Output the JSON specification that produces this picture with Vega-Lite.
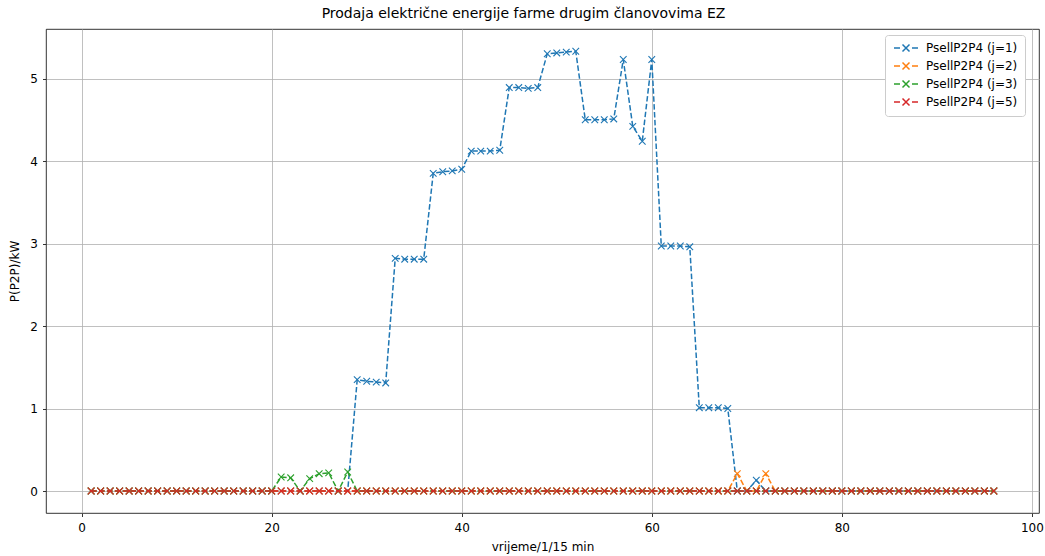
{
  "$schema": "https://vega.github.io/schema/vega-lite/v6.json",
  "width": 993,
  "height": 484,
  "autosize": {"type": "none"},
  "padding": {"left": 46, "top": 29, "right": 6, "bottom": 43},
  "background": "white",
  "title": {"text": "Prodaja električne energije farme drugim članovovima EZ", "font": "DejaVu Sans", "fontSize": 14, "fontWeight": "normal", "color": "black", "offset": 8, "dx": -19},
  "config": {
    "font": "DejaVu Sans",
    "view": {"stroke": "black", "strokeWidth": 0.8},
    "axis": {"domain": false, "grid": true, "gridColor": "#b0b0b0", "gridWidth": 0.8, "tickColor": "black", "tickWidth": 0.8, "tickSize": 3.5, "labelPadding": 3, "labelFont": "DejaVu Sans", "labelFontSize": 12, "labelColor": "black", "titleFont": "DejaVu Sans", "titleFontSize": 12, "titleFontWeight": "normal", "titleColor": "black"}
  },
  "datasets": {
    "j1": [
      {"x":1,"y":0},{"x":2,"y":0},{"x":3,"y":0},{"x":4,"y":0},{"x":5,"y":0},{"x":6,"y":0},{"x":7,"y":0},{"x":8,"y":0},{"x":9,"y":0},{"x":10,"y":0},
      {"x":11,"y":0},{"x":12,"y":0},{"x":13,"y":0},{"x":14,"y":0},{"x":15,"y":0},{"x":16,"y":0},{"x":17,"y":0},{"x":18,"y":0},{"x":19,"y":0},{"x":20,"y":0},
      {"x":21,"y":0},{"x":22,"y":0},{"x":23,"y":0},{"x":24,"y":0},{"x":25,"y":0},{"x":26,"y":0},{"x":27,"y":0},{"x":28,"y":0},
      {"x":29,"y":1.35},{"x":30,"y":1.33},{"x":31,"y":1.32},{"x":32,"y":1.31},
      {"x":33,"y":2.82},{"x":34,"y":2.81},{"x":35,"y":2.81},{"x":36,"y":2.81},
      {"x":37,"y":3.85},{"x":38,"y":3.87},{"x":39,"y":3.88},{"x":40,"y":3.9},
      {"x":41,"y":4.12},{"x":42,"y":4.12},{"x":43,"y":4.12},{"x":44,"y":4.13},
      {"x":45,"y":4.89},{"x":46,"y":4.89},{"x":47,"y":4.88},{"x":48,"y":4.89},
      {"x":49,"y":5.3},{"x":50,"y":5.31},{"x":51,"y":5.32},{"x":52,"y":5.33},
      {"x":53,"y":4.5},{"x":54,"y":4.5},{"x":55,"y":4.5},{"x":56,"y":4.51},
      {"x":57,"y":5.23},{"x":58,"y":4.42},{"x":59,"y":4.24},{"x":60,"y":5.23},
      {"x":61,"y":2.97},{"x":62,"y":2.97},{"x":63,"y":2.97},{"x":64,"y":2.96},
      {"x":65,"y":1.01},{"x":66,"y":1.01},{"x":67,"y":1.01},{"x":68,"y":1.0},
      {"x":69,"y":0},{"x":70,"y":0},{"x":71,"y":0.13},{"x":72,"y":0},{"x":73,"y":0},{"x":74,"y":0},{"x":75,"y":0},{"x":76,"y":0},{"x":77,"y":0},{"x":78,"y":0},{"x":79,"y":0},{"x":80,"y":0},
      {"x":81,"y":0},{"x":82,"y":0},{"x":83,"y":0},{"x":84,"y":0},{"x":85,"y":0},{"x":86,"y":0},{"x":87,"y":0},{"x":88,"y":0},{"x":89,"y":0},{"x":90,"y":0},
      {"x":91,"y":0},{"x":92,"y":0},{"x":93,"y":0},{"x":94,"y":0},{"x":95,"y":0},{"x":96,"y":0}
    ],
    "j2": [
      {"x":1,"y":0},{"x":2,"y":0},{"x":3,"y":0},{"x":4,"y":0},{"x":5,"y":0},{"x":6,"y":0},{"x":7,"y":0},{"x":8,"y":0},{"x":9,"y":0},{"x":10,"y":0},
      {"x":11,"y":0},{"x":12,"y":0},{"x":13,"y":0},{"x":14,"y":0},{"x":15,"y":0},{"x":16,"y":0},{"x":17,"y":0},{"x":18,"y":0},{"x":19,"y":0},{"x":20,"y":0},
      {"x":21,"y":0},{"x":22,"y":0},{"x":23,"y":0},{"x":24,"y":0},{"x":25,"y":0},{"x":26,"y":0},{"x":27,"y":0},{"x":28,"y":0},{"x":29,"y":0},{"x":30,"y":0},
      {"x":31,"y":0},{"x":32,"y":0},{"x":33,"y":0},{"x":34,"y":0},{"x":35,"y":0},{"x":36,"y":0},{"x":37,"y":0},{"x":38,"y":0},{"x":39,"y":0},{"x":40,"y":0},
      {"x":41,"y":0},{"x":42,"y":0},{"x":43,"y":0},{"x":44,"y":0},{"x":45,"y":0},{"x":46,"y":0},{"x":47,"y":0},{"x":48,"y":0},{"x":49,"y":0},{"x":50,"y":0},
      {"x":51,"y":0},{"x":52,"y":0},{"x":53,"y":0},{"x":54,"y":0},{"x":55,"y":0},{"x":56,"y":0},{"x":57,"y":0},{"x":58,"y":0},{"x":59,"y":0},{"x":60,"y":0},
      {"x":61,"y":0},{"x":62,"y":0},{"x":63,"y":0},{"x":64,"y":0},{"x":65,"y":0},{"x":66,"y":0},{"x":67,"y":0},{"x":68,"y":0},{"x":69,"y":0.21},{"x":70,"y":0},
      {"x":71,"y":0},{"x":72,"y":0.21},{"x":73,"y":0},{"x":74,"y":0},{"x":75,"y":0},{"x":76,"y":0},{"x":77,"y":0},{"x":78,"y":0},{"x":79,"y":0},{"x":80,"y":0},
      {"x":81,"y":0},{"x":82,"y":0},{"x":83,"y":0},{"x":84,"y":0},{"x":85,"y":0},{"x":86,"y":0},{"x":87,"y":0},{"x":88,"y":0},{"x":89,"y":0},{"x":90,"y":0},
      {"x":91,"y":0},{"x":92,"y":0},{"x":93,"y":0},{"x":94,"y":0},{"x":95,"y":0},{"x":96,"y":0}
    ],
    "j3": [
      {"x":1,"y":0},{"x":2,"y":0},{"x":3,"y":0},{"x":4,"y":0},{"x":5,"y":0},{"x":6,"y":0},{"x":7,"y":0},{"x":8,"y":0},{"x":9,"y":0},{"x":10,"y":0},
      {"x":11,"y":0},{"x":12,"y":0},{"x":13,"y":0},{"x":14,"y":0},{"x":15,"y":0},{"x":16,"y":0},{"x":17,"y":0},{"x":18,"y":0},{"x":19,"y":0},{"x":20,"y":0},
      {"x":21,"y":0.17},{"x":22,"y":0.16},{"x":23,"y":0},{"x":24,"y":0.15},{"x":25,"y":0.21},{"x":26,"y":0.22},{"x":27,"y":0},{"x":28,"y":0.23},{"x":29,"y":0},{"x":30,"y":0},
      {"x":31,"y":0},{"x":32,"y":0},{"x":33,"y":0},{"x":34,"y":0},{"x":35,"y":0},{"x":36,"y":0},{"x":37,"y":0},{"x":38,"y":0},{"x":39,"y":0},{"x":40,"y":0},
      {"x":41,"y":0},{"x":42,"y":0},{"x":43,"y":0},{"x":44,"y":0},{"x":45,"y":0},{"x":46,"y":0},{"x":47,"y":0},{"x":48,"y":0},{"x":49,"y":0},{"x":50,"y":0},
      {"x":51,"y":0},{"x":52,"y":0},{"x":53,"y":0},{"x":54,"y":0},{"x":55,"y":0},{"x":56,"y":0},{"x":57,"y":0},{"x":58,"y":0},{"x":59,"y":0},{"x":60,"y":0},
      {"x":61,"y":0},{"x":62,"y":0},{"x":63,"y":0},{"x":64,"y":0},{"x":65,"y":0},{"x":66,"y":0},{"x":67,"y":0},{"x":68,"y":0},{"x":69,"y":0},{"x":70,"y":0},
      {"x":71,"y":0},{"x":72,"y":0},{"x":73,"y":0},{"x":74,"y":0},{"x":75,"y":0},{"x":76,"y":0},{"x":77,"y":0},{"x":78,"y":0},{"x":79,"y":0},{"x":80,"y":0},
      {"x":81,"y":0},{"x":82,"y":0},{"x":83,"y":0},{"x":84,"y":0},{"x":85,"y":0},{"x":86,"y":0},{"x":87,"y":0},{"x":88,"y":0},{"x":89,"y":0},{"x":90,"y":0},
      {"x":91,"y":0},{"x":92,"y":0},{"x":93,"y":0},{"x":94,"y":0},{"x":95,"y":0},{"x":96,"y":0}
    ],
    "j5": [
      {"x":1,"y":0},{"x":2,"y":0},{"x":3,"y":0},{"x":4,"y":0},{"x":5,"y":0},{"x":6,"y":0},{"x":7,"y":0},{"x":8,"y":0},{"x":9,"y":0},{"x":10,"y":0},
      {"x":11,"y":0},{"x":12,"y":0},{"x":13,"y":0},{"x":14,"y":0},{"x":15,"y":0},{"x":16,"y":0},{"x":17,"y":0},{"x":18,"y":0},{"x":19,"y":0},{"x":20,"y":0},
      {"x":21,"y":0},{"x":22,"y":0},{"x":23,"y":0},{"x":24,"y":0},{"x":25,"y":0},{"x":26,"y":0},{"x":27,"y":0},{"x":28,"y":0},{"x":29,"y":0},{"x":30,"y":0},
      {"x":31,"y":0},{"x":32,"y":0},{"x":33,"y":0},{"x":34,"y":0},{"x":35,"y":0},{"x":36,"y":0},{"x":37,"y":0},{"x":38,"y":0},{"x":39,"y":0},{"x":40,"y":0},
      {"x":41,"y":0},{"x":42,"y":0},{"x":43,"y":0},{"x":44,"y":0},{"x":45,"y":0},{"x":46,"y":0},{"x":47,"y":0},{"x":48,"y":0},{"x":49,"y":0},{"x":50,"y":0},
      {"x":51,"y":0},{"x":52,"y":0},{"x":53,"y":0},{"x":54,"y":0},{"x":55,"y":0},{"x":56,"y":0},{"x":57,"y":0},{"x":58,"y":0},{"x":59,"y":0},{"x":60,"y":0},
      {"x":61,"y":0},{"x":62,"y":0},{"x":63,"y":0},{"x":64,"y":0},{"x":65,"y":0},{"x":66,"y":0},{"x":67,"y":0},{"x":68,"y":0},{"x":69,"y":0},{"x":70,"y":0},
      {"x":71,"y":0},{"x":72,"y":0},{"x":73,"y":0},{"x":74,"y":0},{"x":75,"y":0},{"x":76,"y":0},{"x":77,"y":0},{"x":78,"y":0},{"x":79,"y":0},{"x":80,"y":0},
      {"x":81,"y":0},{"x":82,"y":0},{"x":83,"y":0},{"x":84,"y":0},{"x":85,"y":0},{"x":86,"y":0},{"x":87,"y":0},{"x":88,"y":0},{"x":89,"y":0},{"x":90,"y":0},
      {"x":91,"y":0},{"x":92,"y":0},{"x":93,"y":0},{"x":94,"y":0},{"x":95,"y":0},{"x":96,"y":0}
    ]
  },
  "encoding": {
    "x": {"field": "x", "type": "quantitative", "scale": {"domain": [-3.75, 100.75], "nice": false, "zero": false}, "axis": {"values": [0, 20, 40, 60, 80, 100], "title": "vrijeme/1/15 min", "labelPadding": 6, "titlePadding": 8}},
    "y": {"field": "y", "type": "quantitative", "scale": {"domain": [-0.2665, 5.6], "nice": false, "zero": false}, "axis": {"values": [0, 1, 2, 3, 4, 5], "title": "P(P2P)/kW", "labelPadding": 5, "titlePadding": 8}}
  },
  "layer": [
    {"data": {"name": "j1"}, "mark": {"type": "line", "strokeWidth": 1.5, "strokeDash": [5.5, 2.4], "point": {"shape": "M-1,-1L1,1M-1,1L1,-1", "filled": false, "size": 44, "strokeWidth": 1.1}},
     "encoding": {"color": {"datum": "PsellP2P4 (j=1)", "type": "nominal",
       "scale": {"domain": ["PsellP2P4 (j=1)", "PsellP2P4 (j=2)", "PsellP2P4 (j=3)", "PsellP2P4 (j=5)"], "range": ["#1f77b4", "#ff7f0e", "#2ca02c", "#d62728"]},
       "legend": {"title": null, "orient": "none", "legendX": 839, "legendY": 6, "fillColor": "white", "strokeColor": "#cccccc", "cornerRadius": 3, "padding": 7,
         "symbolType": "M-2.4,0L-1.2,0M-0.7,-0.7L0.7,0.7M-0.7,0.7L0.7,-0.7M1.2,0L2.4,0", "symbolSize": 100, "symbolStrokeWidth": 1.5, "symbolFillColor": "transparent",
         "labelFont": "DejaVu Sans", "labelFontSize": 12, "labelColor": "black", "labelOffset": 14, "rowPadding": 4, "symbolOffset": 8}}}},
    {"data": {"name": "j2"}, "mark": {"type": "line", "strokeWidth": 1.5, "strokeDash": [5.5, 2.4], "point": {"shape": "M-1,-1L1,1M-1,1L1,-1", "filled": false, "size": 44, "strokeWidth": 1.1}},
     "encoding": {"color": {"datum": "PsellP2P4 (j=2)", "type": "nominal"}}},
    {"data": {"name": "j3"}, "mark": {"type": "line", "strokeWidth": 1.5, "strokeDash": [5.5, 2.4], "point": {"shape": "M-1,-1L1,1M-1,1L1,-1", "filled": false, "size": 44, "strokeWidth": 1.1}},
     "encoding": {"color": {"datum": "PsellP2P4 (j=3)", "type": "nominal"}}},
    {"data": {"name": "j5"}, "mark": {"type": "line", "strokeWidth": 1.5, "strokeDash": [5.5, 2.4], "point": {"shape": "M-1,-1L1,1M-1,1L1,-1", "filled": false, "size": 44, "strokeWidth": 1.1}},
     "encoding": {"color": {"datum": "PsellP2P4 (j=5)", "type": "nominal"}}}
  ]
}
